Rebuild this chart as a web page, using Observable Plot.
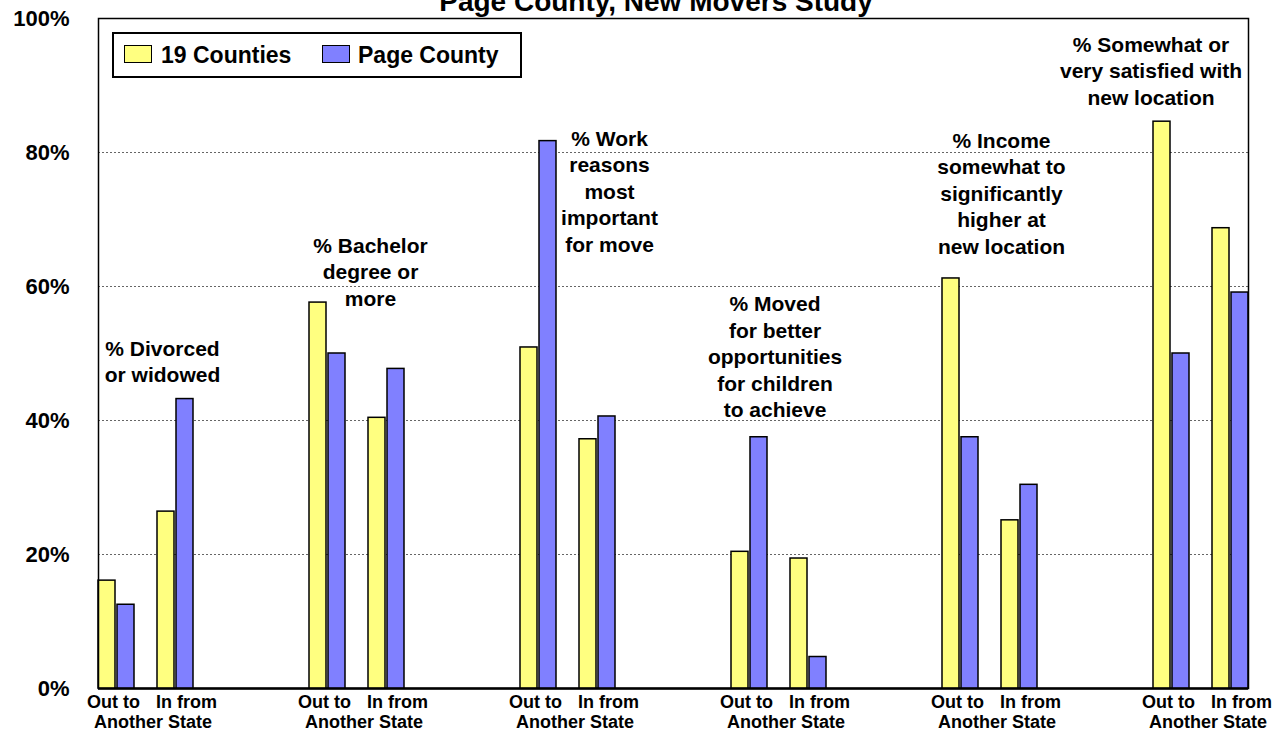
<!DOCTYPE html>
<html>
<head>
<meta charset="utf-8">
<script src="https://cdn.jsdelivr.net/npm/d3@7"></script>
<script src="https://cdn.jsdelivr.net/npm/@observablehq/plot@0.6"></script>
<style>
  html, body { margin: 0; padding: 0; background: #fff; overflow: hidden; }
  #wrap { position: relative; width: 1281px; height: 731px; overflow: hidden;
          font-family: "Liberation Sans", Arial, sans-serif; font-weight: bold; }
  #title { position: absolute; top: -12px; left: 656px; transform: translateX(-50%);
           white-space: nowrap; font-size: 28px; line-height: 28px; color: #000; z-index: 3; }
  #legend { position: absolute; left: 112px; top: 32px; width: 406px; height: 42px;
            border: 2px solid #000; background: #fff; z-index: 3; }
  #legend .sw { position: absolute; top: 11px; width: 26px; height: 16px; border: 1.5px solid #000; }
  #legend .lb { position: absolute; top: 6px; font-size: 23px; line-height: 30px; white-space: nowrap; }
  .layer { position: absolute; left: 0; top: 0; }
  #bg { z-index: 1; }
  #fg { z-index: 2; }
</style>
</head>
<body>
<div id="wrap">
  <div id="title">Page County, New Movers Study</div>
  <div id="legend"></div>
  <div id="bg" class="layer"></div>
  <div id="fg" class="layer"></div>
</div>
<script>
// ---- data ----
const groups = ["Divorced", "Bachelor", "Work", "Children", "Income", "Satisfied"];
const groupNotes = [
  "% Divorced\nor widowed",
  "% Bachelor\ndegree or\nmore",
  "% Work\nreasons\nmost\nimportant\nfor move",
  "% Moved\nfor better\nopportunities\nfor children\nto achieve",
  "% Income\nsomewhat to\nsignificantly\nhigher at\nnew location",
  "% Somewhat or\nvery satisfied with\nnew location"
];
const subs = ["Out", "In"];
const subLabels = ["Out to", "In from"];
const subCaption = "Another State";
const seriesNames = ["19 Counties", "Page County"];
const counties19Out = [16.1, 57.6, 50.9, 20.4, 61.2, 84.6];
const pageOut       = [12.5, 50.0, 81.7, 37.5, 37.5, 50.0];
const counties19In  = [26.4, 40.4, 37.2, 19.4, 25.1, 68.7];
const pageIn        = [43.2, 47.7, 40.6, 4.7, 30.4, 59.1];
const yTicks = [0, 20, 40, 60, 80, 100];
const gridTicks = [20, 40, 60, 80];

// ---- annotation placement (layout, not data) ----
const noteTop = [52.5, 67.8, 83.8, 59.1, 83.5, 97.8];
const noteDx  = [16.5, 13.5, 41.5, -4, 11.5, -50];

const colors = {"19 Counties": "#FFFF80", "Page County": "#8080FF"};

// build table
const rows = [];
groups.forEach((g, i) => {
  rows.push({group: g, sub: "Out", series: seriesNames[0], value: counties19Out[i]});
  rows.push({group: g, sub: "Out", series: seriesNames[1], value: pageOut[i]});
  rows.push({group: g, sub: "In",  series: seriesNames[0], value: counties19In[i]});
  rows.push({group: g, sub: "In",  series: seriesNames[1], value: pageIn[i]});
});
const notes = groups.map((g, i) => ({group: g, text: groupNotes[i], y: noteTop[i]}));

const font = "Liberation Sans, Arial, sans-serif";
const common = {
  width: 1281, height: 731,
  marginTop: 18, marginBottom: 43, marginLeft: 98, marginRight: 33,
  style: {fontFamily: font, fontSize: "22px", fontWeight: "bold", color: "black", overflow: "visible"}
};

// background: grid, y axis, baseline
const bg = Plot.plot({
  ...common,
  style: {...common.style, background: "white"},
  y: {domain: [0, 100], ticks: yTicks, tickFormat: d => d + "%", tickSize: 0, tickPadding: 29, label: null},
  marks: [
    Plot.ruleY(gridTicks, {stroke: "#666", strokeWidth: 1, strokeDasharray: "2,2"}),
    Plot.ruleY([0], {stroke: "black", strokeWidth: 2.5})
  ]
});
document.getElementById("bg").appendChild(bg);

// foreground: faceted bars and labels
const noteMarks = notes.map((n, i) => Plot.text([n], {
  fx: "group", y: "y", text: "text", lineAnchor: "top", lineHeight: 1.26,
  dx: noteDx[i], fontSize: 21, fontWeight: "bold", fill: "black"
}));

const fg = Plot.plot({
  ...common,
  style: {...common.style, background: "transparent"},
  fx: {domain: groups, paddingInner: 0.55, paddingOuter: 0, axis: null, label: null},
  x: {domain: subs, paddingInner: 0.39, paddingOuter: 0, axis: null, label: null},
  y: {domain: [0, 100], axis: null, label: null},
  marks: [
    Plot.barY(rows.filter(d => d.series === seriesNames[0]), {
      fx: "group", x: "sub", y: "value", fill: colors[seriesNames[0]],
      stroke: "black", strokeWidth: 1.5, insetLeft: 0, insetRight: 19
    }),
    Plot.barY(rows.filter(d => d.series === seriesNames[1]), {
      fx: "group", x: "sub", y: "value", fill: colors[seriesNames[1]],
      stroke: "black", strokeWidth: 1.5, insetLeft: 19, insetRight: 0
    }),
    Plot.frame({facet: "super", stroke: "black", strokeWidth: 1.5}),
    ...noteMarks,
    Plot.text(groups, {fx: d => d, x: () => subs[0], text: () => subLabels[0],
      frameAnchor: "bottom", dy: 19, dx: -3, fontSize: 18, fontWeight: "bold", fill: "black"}),
    Plot.text(groups, {fx: d => d, x: () => subs[1], text: () => subLabels[1],
      frameAnchor: "bottom", dy: 19, dx: 11, fontSize: 18, fontWeight: "bold", fill: "black"}),
    Plot.text(groups, {fx: d => d, text: () => subCaption,
      frameAnchor: "bottom", dy: 39, dx: 7, fontSize: 18, fontWeight: "bold", fill: "black"})
  ]
});
document.getElementById("fg").appendChild(fg);

// legend (HTML overlay)
const legend = document.getElementById("legend");
const legendPos = [{sw: 10, lb: 47}, {sw: 208, lb: 244}];
seriesNames.forEach((s, i) => {
  const sw = document.createElement("div");
  sw.className = "sw";
  sw.style.left = legendPos[i].sw + "px";
  sw.style.background = colors[s];
  legend.appendChild(sw);
  const lb = document.createElement("div");
  lb.className = "lb";
  lb.style.left = legendPos[i].lb + "px";
  lb.textContent = s;
  legend.appendChild(lb);
});
</script>
</body>
</html>
